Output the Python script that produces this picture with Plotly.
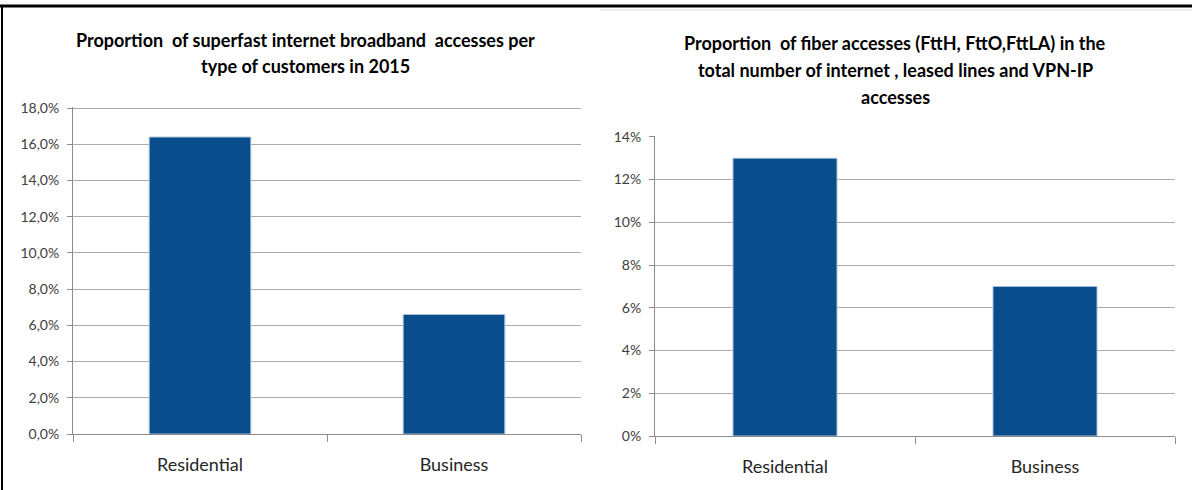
import plotly.graph_objects as go

# Data
categories = ["Residential", "Business"]
superfast_share = [0.164, 0.066]      # superfast broadband share, 2015
fiber_share = [0.13, 0.07]            # fiber (FttH, FttO, FttLA) share

left_ticks = [0, 0.02, 0.04, 0.06, 0.08, 0.10, 0.12, 0.14, 0.16, 0.18]
left_labels = ["0,0%", "2,0%", "4,0%", "6,0%", "8,0%", "10,0%", "12,0%", "14,0%", "16,0%", "18,0%"]
right_ticks = [0, 0.02, 0.04, 0.06, 0.08, 0.10, 0.12, 0.14]
right_labels = ["0%", "2%", "4%", "6%", "8%", "10%", "12%", "14%"]

left_title = ["Proportion  of superfast internet broadband  accesses per",
              "type of customers in 2015"]
right_title = ["Proportion  of fiber accesses (FttH, FttO,FttLA) in the",
               "total number of internet , leased lines and VPN-IP",
               "accesses"]

W, H = 1192, 490
BAR = "#0a4d8c"
GRID = "#ababab"
AXIS = "#8c8c8c"
FONT = "Lato"


def px(x):
    return x / W


def py(y):
    return 1 - y / H


fig = go.Figure()
bar_style = dict(marker=dict(color=BAR, line=dict(color="#a9bfd6", width=1)),
                 showlegend=False, hoverinfo="skip")
fig.add_trace(go.Bar(x=categories, y=superfast_share, xaxis="x", yaxis="y", **bar_style))
fig.add_trace(go.Bar(x=categories, y=fiber_share, xaxis="x2", yaxis="y2", **bar_style))

xcommon = dict(type="category", showgrid=False, showline=True, linecolor=AXIS, linewidth=1,
               ticks="outside", tickson="boundaries", ticklen=7, tickcolor=AXIS,
               tickfont=dict(family=FONT, size=18, color="#262626"), zeroline=False,
               automargin=False, ticklabelstandoff=14, fixedrange=True)
ycommon = dict(showgrid=True, gridcolor=GRID, gridwidth=1, showline=True, linecolor=AXIS,
               linewidth=1, ticks="outside", ticklen=5, tickcolor=AXIS, zeroline=False,
               tickfont=dict(family=FONT, size=14, color="#404040"), automargin=False,
               ticklabelstandoff=5, fixedrange=True)


def title_lines(lines, xc, y_first, step):
    # one annotation per title line so the line spacing can be set exactly
    return [dict(text=t, x=px(xc), y=py(y_first + i * step), xref="paper", yref="paper",
                 xanchor="center", yanchor="middle", showarrow=False,
                 font=dict(family=FONT, size=18, color="black", weight="bold"))
            for i, t in enumerate(lines)]


fig.update_layout(
    width=W, height=H,
    margin=dict(l=0, r=0, t=0, b=0, autoexpand=False),
    paper_bgcolor="white", plot_bgcolor="white",
    bargap=0.6,
    xaxis=dict(domain=[px(73), px(581)], anchor="y", **xcommon),
    yaxis=dict(domain=[py(434), py(107)], anchor="x", range=[0, 0.1806],
               tickvals=left_ticks, ticktext=left_labels, **ycommon),
    xaxis2=dict(domain=[px(655), px(1175)], anchor="y2", **xcommon),
    yaxis2=dict(domain=[py(436), py(136)], anchor="x2", range=[0, 0.1404],
                tickvals=right_ticks, ticktext=right_labels, **ycommon),
    annotations=title_lines(left_title, 305, 40, 26) + title_lines(right_title, 895, 43, 27),
    shapes=[
        # frame around the panel
        dict(type="line", xref="paper", yref="paper", x0=0, x1=1, y0=py(6), y1=py(6),
             line=dict(color="black", width=3)),
        dict(type="line", xref="paper", yref="paper", x0=px(2), x1=px(2), y0=py(6), y1=0,
             line=dict(color="black", width=2)),
        dict(type="line", xref="paper", yref="paper", x0=px(600), x1=1, y0=py(10), y1=py(10),
             line=dict(color="#d9d9d9", width=1)),
    ],
)

fig.write_html("out.html")
